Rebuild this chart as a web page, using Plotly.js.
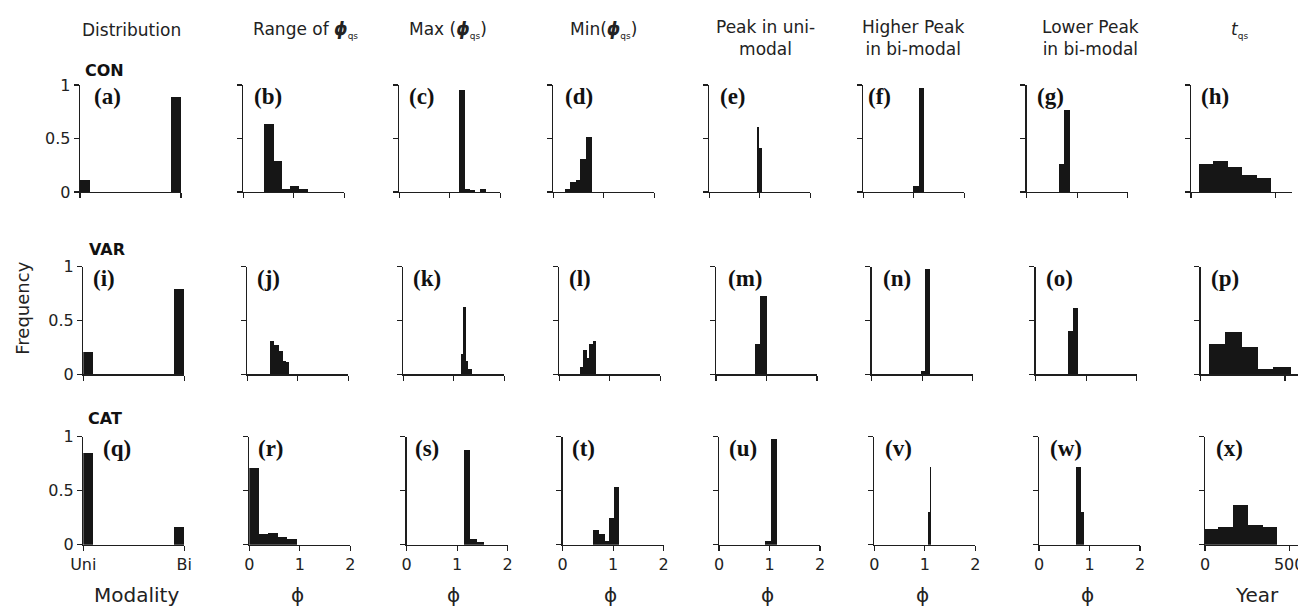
<!DOCTYPE html>
<html><head><meta charset="utf-8">
<script src="https://cdn.plot.ly/plotly-3.0.1.min.js"></script>
<style>html,body{margin:0;padding:0;overflow:hidden;background:#fff}</style>
</head><body><div id="chart"></div>
<script>
// ---------------- DATA ----------------
const rowNames = ['CON', 'VAR', 'CAT'];
const columnTitles = ['Distribution', 'Range of <b><i>ϕ</i></b><sub><span style="font-size:9px">qs</span></sub>',
  'Max (<b><i>ϕ</i></b><sub><span style="font-size:9px">qs</span></sub>)', 'Min(<b><i>ϕ</i></b><sub><span style="font-size:9px">qs</span></sub>)',
  'Peak in uni-<br>modal', 'Higher Peak<br>in bi-modal', 'Lower Peak<br>in bi-modal', '<i>t</i><sub><span style="font-size:9px">qs</span></sub>'];
const panelLetters = 'abcdefghijklmnopqrstuvwx'.split('');
const xTitles = ['Modality', 'ϕ', 'ϕ', 'ϕ', 'ϕ', 'ϕ', 'ϕ', 'Year'];
const yTitle = 'Frequency';
const modalityTickText = ['Uni', 'Bi'];
const phiTicks = [0, 1, 2];
const yearTicks = [0, 500];
const freqTicks = [0, 0.5, 1];

// modality histograms: bins Uni [0,0.1], empty, Bi [0.9,1]
const modalityEdges = [0, 0.1, 0.9, 1.0];
const modalityCON = [0.11, 0, 0.89];
const modalityVAR = [0.21, 0, 0.79];
const modalityCAT = [0.85, 0, 0.16];

// Range of phi_qs
const rangeCON_edges = [0.40, 0.61, 0.77, 0.93, 1.11, 1.29];
const rangeCON_freq  = [0.64, 0.29, 0.03, 0.055, 0.03];
const rangeVAR_edges = [0.45, 0.53, 0.62, 0.70, 0.76, 0.82];
const rangeVAR_freq  = [0.31, 0.27, 0.22, 0.12, 0.11];
const rangeCAT_edges = [0.0, 0.20, 0.38, 0.56, 0.75, 0.94];
const rangeCAT_freq  = [0.71, 0.10, 0.11, 0.075, 0.05];

// Max(phi_qs)
const maxCON_edges = [1.18, 1.30, 1.40, 1.49, 1.59, 1.72];
const maxCON_freq  = [0.95, 0.025, 0.02, 0, 0.025];
const maxVAR_edges = [1.15, 1.18, 1.25, 1.28, 1.36];
const maxVAR_freq  = [0.19, 0.63, 0.12, 0.05];
const maxCAT_edges = [1.13, 1.25, 1.40, 1.54];
const maxCAT_freq  = [0.88, 0.05, 0.025];

// Min(phi_qs)
const minCON_edges = [0.23, 0.34, 0.44, 0.53, 0.64, 0.76];
const minCON_freq  = [0.03, 0.09, 0.11, 0.31, 0.51];
const minVAR_edges = [0.41, 0.47, 0.54, 0.59, 0.66, 0.72];
const minVAR_freq  = [0.065, 0.23, 0.15, 0.28, 0.31];
const minCAT_edges = [0.60, 0.72, 0.84, 0.92, 1.01, 1.11];
const minCAT_freq  = [0.135, 0.10, 0.03, 0.25, 0.53];

// Peak in uni-modal
const uniCON_edges = [0.94, 0.99, 1.05];
const uniCON_freq  = [0.61, 0.41];
const uniVAR_edges = [0.78, 0.88, 1.01];
const uniVAR_freq  = [0.28, 0.73];
const uniCAT_edges = [0.91, 1.03, 1.15];
const uniCAT_freq  = [0.035, 0.98];

// Higher peak in bi-modal
const hiCON_edges = [0.99, 1.10, 1.20];
const hiCON_freq  = [0.055, 0.97];
const hiVAR_edges = [0.97, 1.05, 1.16];
const hiVAR_freq  = [0.035, 0.98];
const hiCAT_edges = [1.07, 1.10, 1.12];
const hiCAT_freq  = [0.30, 0.72];

// Lower peak in bi-modal
const loCON_edges = [0.63, 0.74, 0.85];
const loCON_freq  = [0.26, 0.77];
const loVAR_edges = [0.63, 0.73, 0.83];
const loVAR_freq  = [0.40, 0.62];
const loCAT_edges = [0.74, 0.84, 0.90];
const loCAT_freq  = [0.72, 0.30];

// t_qs (years)
const tCON_edges = [48, 133, 219, 305, 391, 477];
const tCON_freq  = [0.26, 0.29, 0.23, 0.16, 0.13];
const tVAR_edges = [50, 145, 245, 341, 431, 534];
const tVAR_freq  = [0.28, 0.39, 0.25, 0.045, 0.065];
const tCAT_edges = [0, 79, 168, 257, 346, 425];
const tCAT_freq  = [0.15, 0.16, 0.37, 0.18, 0.16];

// ---------------- LAYOUT GEOMETRY (pixels) ----------------
const W = 1310, H = 608;
const rowTop = [85, 266.7, 436.7];
const rowBottom = [192, 374.3, 544.7];
const colLeft = [
  [80, 243.3, 399.3, 553.3, 709.3, 863.3, 1026.7, 1191],
  [83.3, 247.3, 403.3, 559.3, 716, 871.7, 1035.7, 1200.7],
  [83.3, 249.3, 406.7, 562.7, 719, 874.3, 1039, 1205]
];
const panelW = 101;
const titleX = [131, 305, 448, 603, 766, 913, 1090, 1239];
const titleY = [30, 30, 30, 30, 38, 38, 38, 30];
const rowLabelPos = [[82.7, 70.5], [87.3, 249], [86, 418.7]];
const letterOffset = [[11.7, 8.4, 8, 9.4, 8.4, 2.7, 8, 8], [7.4, 8, 8, 8, 10, 9, 8, 8], [18, 6.7, 6, 7.3, 8, 8.4, 9, 9]];
const xTitleX = [136, 297.5, 453.5, 610.5, 767, 922, 1087, 1257];

const SANS = 'DejaVu Sans, Liberation Sans, Arial, sans-serif';
const SERIF = 'Liberation Serif, Times New Roman, serif';
const INK = '#161616';
const AX = '#1e1e1e';

const panels = [
  [[modalityEdges, modalityCON], [rangeCON_edges, rangeCON_freq], [maxCON_edges, maxCON_freq], [minCON_edges, minCON_freq],
   [uniCON_edges, uniCON_freq], [hiCON_edges, hiCON_freq], [loCON_edges, loCON_freq], [tCON_edges, tCON_freq]],
  [[modalityEdges, modalityVAR], [rangeVAR_edges, rangeVAR_freq], [maxVAR_edges, maxVAR_freq], [minVAR_edges, minVAR_freq],
   [uniVAR_edges, uniVAR_freq], [hiVAR_edges, hiVAR_freq], [loVAR_edges, loVAR_freq], [tVAR_edges, tVAR_freq]],
  [[modalityEdges, modalityCAT], [rangeCAT_edges, rangeCAT_freq], [maxCAT_edges, maxCAT_freq], [minCAT_edges, minCAT_freq],
   [uniCAT_edges, uniCAT_freq], [hiCAT_edges, hiCAT_freq], [loCAT_edges, loCAT_freq], [tCAT_edges, tCAT_freq]]
];

const traces = [];
const layout = {
  width: W, height: H, margin: {l: 0, r: 0, t: 0, b: 0},
  paper_bgcolor: '#ffffff', plot_bgcolor: 'rgba(0,0,0,0)',
  showlegend: false, annotations: [], bargap: 0
};

panels.forEach((row, r) => row.forEach(([edges, freq], c) => {
  const i = r * 8 + c + 1;
  const s = i === 1 ? '' : String(i);
  const mids = [], widths = [];
  for (let k = 0; k < freq.length; k++) {
    mids.push((edges[k] + edges[k + 1]) / 2);
    widths.push(edges[k + 1] - edges[k]);
  }
  traces.push({type: 'bar', x: mids, y: freq, width: widths, xaxis: 'x' + s, yaxis: 'y' + s,
    marker: {color: INK, line: {width: 0}}, hoverinfo: 'skip', showlegend: false});

  let range, tickvals, ticktext;
  if (c === 0) { range = [0, 1]; tickvals = [0, 1]; ticktext = modalityTickText; }
  else if (c === 7) { range = [0, 600]; tickvals = yearTicks; ticktext = yearTicks.map(String); }
  else { range = [0, 2]; tickvals = phiTicks; ticktext = phiTicks.map(String); }

  const left = colLeft[r][c];
  layout['xaxis' + s] = {
    domain: [left / W, (left + panelW) / W], range, tickvals, ticktext, anchor: 'y' + s,
    showline: true, linecolor: AX, linewidth: 1.3, ticks: 'outside', ticklen: 5, tickwidth: 1.3, tickcolor: AX,
    showgrid: false, zeroline: false, showticklabels: r === 2, fixedrange: true,
    tickfont: {family: SANS, size: 16, color: '#222'}
  };
  layout['yaxis' + s] = {
    domain: [1 - rowBottom[r] / H, 1 - rowTop[r] / H], range: [0, 1], tickvals: freqTicks,
    ticktext: ['0', '0.5', '1'], anchor: 'x' + s,
    showline: true, linecolor: AX, linewidth: 1.3, ticks: 'outside', ticklen: 5, tickwidth: 1.3, tickcolor: AX,
    showgrid: false, zeroline: false, showticklabels: c === 0, fixedrange: true,
    tickfont: {family: SANS, size: 16, color: '#222'}
  };
  layout.annotations.push({
    text: '<b>(' + panelLetters[i - 1] + ')</b>', xref: 'paper', yref: 'paper',
    x: (left + letterOffset[r][c]) / W, y: 1 - (rowTop[r] + 12) / H, xanchor: 'left', yanchor: 'middle',
    showarrow: false, font: {family: SERIF, size: 23, color: '#111'}
  });
}));

columnTitles.forEach((t, c) => layout.annotations.push({
  text: t, xref: 'paper', yref: 'paper', x: titleX[c] / W, y: 1 - titleY[c] / H,
  xanchor: 'center', yanchor: 'middle', showarrow: false, align: 'center',
  font: {family: SANS, size: 17, color: '#222'}
}));
rowNames.forEach((t, r) => layout.annotations.push({
  text: '<b>' + t + '</b>', xref: 'paper', yref: 'paper', x: rowLabelPos[r][0] / W, y: 1 - rowLabelPos[r][1] / H,
  xanchor: 'left', yanchor: 'middle', showarrow: false, font: {family: SANS, size: 16, color: '#111'}
}));
xTitles.forEach((t, c) => layout.annotations.push({
  text: t, xref: 'paper', yref: 'paper', x: xTitleX[c] / W, y: 0,
  xanchor: 'center', yanchor: 'bottom', borderpad: 0, showarrow: false, font: {family: SANS, size: 20, color: '#222'}
}));
layout.annotations.push({
  text: yTitle, xref: 'paper', yref: 'paper', x: 21.7 / W, y: 1 - 308 / H, textangle: -90,
  xanchor: 'center', yanchor: 'middle', showarrow: false, font: {family: SANS, size: 18, color: '#222'}
});

Plotly.newPlot('chart', traces, layout, {staticPlot: true, displayModeBar: false});
</script>
</body></html>
